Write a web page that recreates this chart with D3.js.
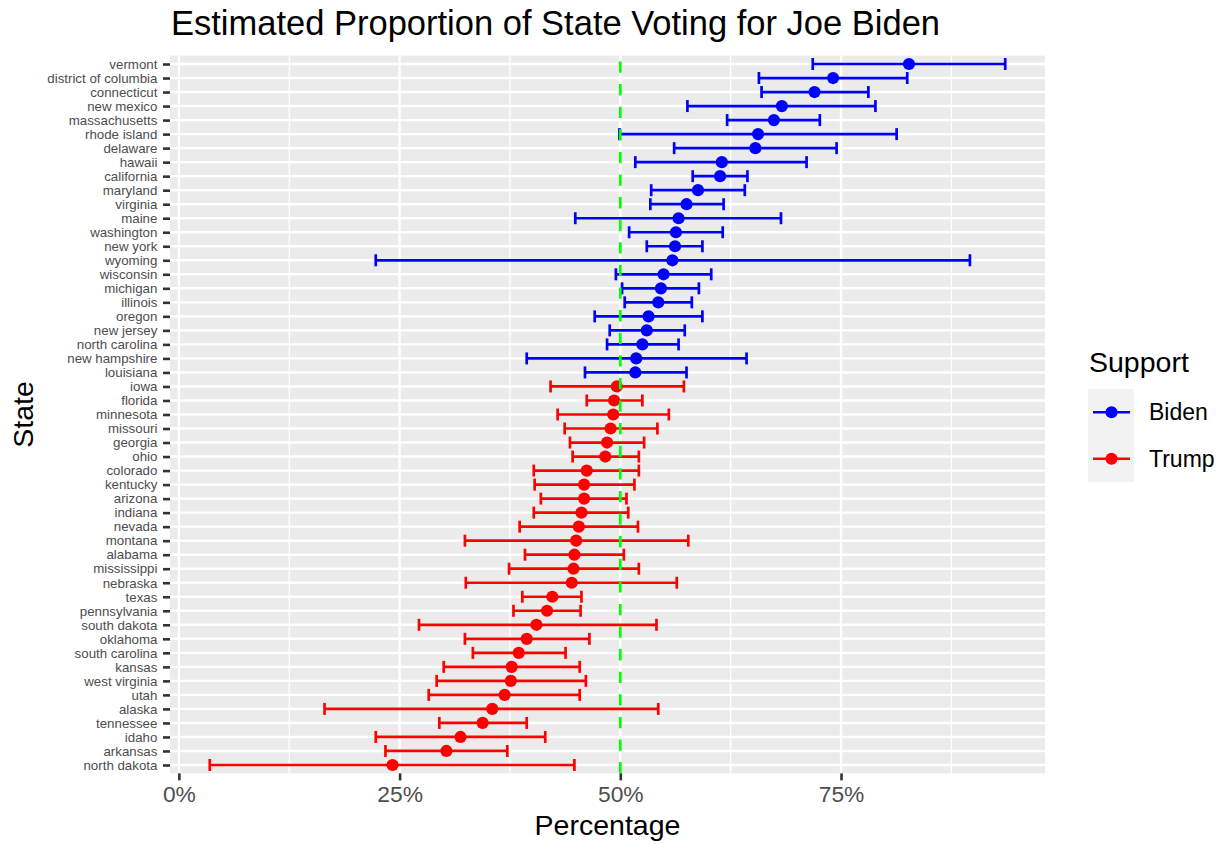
<!DOCTYPE html>
<html>
<head>
<meta charset="utf-8">
<script src="https://cdn.jsdelivr.net/npm/d3@7"></script>
<style>
  body { margin: 0; background: #ffffff; }
  svg { display: block; font-family: "Liberation Sans", Arial, Helvetica, sans-serif; }
</style>
</head>
<body>
<svg id="chart" width="1221" height="844"></svg>
<script>
// States ordered by estimated Biden share (highest first)
const states = ["vermont","district of columbia","connecticut","new mexico","massachusetts","rhode island","delaware","hawaii","california","maryland","virginia","maine","washington","new york","wyoming","wisconsin","michigan","illinois","oregon","new jersey","north carolina","new hampshire","louisiana","iowa","florida","minnesota","missouri","georgia","ohio","colorado","kentucky","arizona","indiana","nevada","montana","alabama","mississippi","nebraska","texas","pennsylvania","south dakota","oklahoma","south carolina","kansas","west virginia","utah","alaska","tennessee","idaho","arkansas","north dakota"];

// Estimated proportion voting for Biden, in percent
const estimate = [82.7,74.1,72.0,68.3,67.4,65.6,65.3,61.5,61.3,58.8,57.5,56.6,56.3,56.2,55.9,54.9,54.6,54.3,53.2,53.0,52.5,51.8,51.7,49.6,49.3,49.2,48.9,48.5,48.3,46.2,45.9,45.9,45.6,45.3,45.0,44.8,44.7,44.5,42.3,41.7,40.5,39.4,38.5,37.7,37.6,36.9,35.5,34.4,31.9,30.3,24.2];

// Interval bounds, in percent
const lower = [71.8,65.7,66.0,57.6,62.1,49.9,56.1,51.7,58.2,53.5,53.4,44.9,51.0,53.0,22.3,49.5,50.2,50.5,47.1,48.8,48.5,39.4,46.0,42.1,46.2,42.9,43.7,44.3,44.6,40.2,40.3,41.0,40.2,38.6,32.4,39.2,37.4,32.5,38.9,37.9,27.2,32.4,33.3,30.0,29.2,28.3,16.5,29.5,22.3,23.4,3.5];
const upper = [93.6,82.5,78.1,78.9,72.6,81.3,74.5,71.1,64.4,64.1,61.7,68.2,61.6,59.3,89.6,60.3,58.9,58.1,59.3,57.3,56.6,64.3,57.5,57.2,52.5,55.5,54.2,52.7,52.1,52.1,51.6,50.7,50.9,52.0,57.7,50.4,52.1,56.4,45.6,45.5,54.1,46.5,43.8,45.4,46.1,45.4,54.3,39.4,41.5,37.2,44.8];

const groups = ["Biden", "Trump"];
const groupColors = ["#0000FF", "#FF0000"];
const xTicks = [0, 0.25, 0.5, 0.75];
const xMinorTicks = [0.125, 0.375, 0.625, 0.875];
const threshold = 0.5;

const rows = states.map((s, i) => ({
  state: s,
  est: estimate[i] / 100,
  lo: lower[i] / 100,
  hi: upper[i] / 100,
  support: estimate[i] / 100 >= threshold ? "Biden" : "Trump"
}));

const svg = d3.select("#chart");
const panel = { left: 170, right: 1045, top: 55.6, bottom: 773.4 };

// Continuous x with 5% expansion, as ggplot does
const lo = d3.min(rows, d => d.lo), hi = d3.max(rows, d => d.hi);
const pad = (hi - lo) * 0.05;
const x = d3.scaleLinear().domain([lo - pad, hi + pad]).range([panel.left, panel.right]);
const y = d3.scalePoint().domain(states).range([panel.top, panel.bottom]).padding(0.6);
const color = d3.scaleOrdinal().domain(groups).range(groupColors);

// Panel background and grid
svg.append("rect")
  .attr("x", panel.left).attr("y", panel.top)
  .attr("width", panel.right - panel.left).attr("height", panel.bottom - panel.top)
  .attr("fill", "#EBEBEB");

const grid = svg.append("g");
grid.selectAll(".minor").data(xMinorTicks.filter(t => x(t) < panel.right)).join("line")
  .attr("x1", d => x(d)).attr("x2", d => x(d))
  .attr("y1", panel.top).attr("y2", panel.bottom)
  .attr("stroke", "#ffffff").attr("stroke-width", 1.3);
grid.selectAll(".majorx").data(xTicks).join("line")
  .attr("x1", d => x(d)).attr("x2", d => x(d))
  .attr("y1", panel.top).attr("y2", panel.bottom)
  .attr("stroke", "#ffffff").attr("stroke-width", 2.4);
grid.selectAll(".majory").data(states).join("line")
  .attr("x1", panel.left).attr("x2", panel.right)
  .attr("y1", d => y(d)).attr("y2", d => y(d))
  .attr("stroke", "#ffffff").attr("stroke-width", 2.4);

// Error bars
const capHalf = 6;
const bars = svg.append("g").selectAll("g").data(rows).join("g")
  .attr("stroke", d => color(d.support)).attr("stroke-width", 2.7).attr("fill", "none");
bars.append("line")
  .attr("x1", d => x(d.lo)).attr("x2", d => x(d.hi))
  .attr("y1", d => y(d.state)).attr("y2", d => y(d.state));
bars.append("line")
  .attr("x1", d => x(d.lo)).attr("x2", d => x(d.lo))
  .attr("y1", d => y(d.state) - capHalf).attr("y2", d => y(d.state) + capHalf);
bars.append("line")
  .attr("x1", d => x(d.hi)).attr("x2", d => x(d.hi))
  .attr("y1", d => y(d.state) - capHalf).attr("y2", d => y(d.state) + capHalf);

// Points
svg.append("g").selectAll("circle").data(rows).join("circle")
  .attr("cx", d => x(d.est)).attr("cy", d => y(d.state)).attr("r", 6.1)
  .attr("fill", d => color(d.support));

// 50% reference line, dashes starting at the bottom
svg.append("line")
  .attr("x1", x(threshold)).attr("x2", x(threshold))
  .attr("y1", panel.bottom).attr("y2", panel.top)
  .attr("stroke", "#00FF00").attr("stroke-width", 2.7)
  .attr("stroke-dasharray", "11.3,11.3");

// Y axis
const yAxis = svg.append("g")
  .attr("transform", `translate(${panel.left},0)`)
  .call(d3.axisLeft(y).tickSize(7).tickPadding(5.6));
yAxis.select(".domain").remove();
yAxis.selectAll(".tick line").attr("stroke", "#333333").attr("stroke-width", 2.6);
yAxis.selectAll(".tick text")
  .attr("fill", "#4D4D4D").attr("font-size", "13.3px")
  .attr("font-family", "Liberation Sans, Arial, sans-serif");

// X axis
const xAxis = svg.append("g")
  .attr("transform", `translate(0,${panel.bottom})`)
  .call(d3.axisBottom(x).tickValues(xTicks).tickFormat(d3.format(".0%")).tickSize(7).tickPadding(5));
xAxis.select(".domain").remove();
xAxis.selectAll(".tick line").attr("stroke", "#333333").attr("stroke-width", 2.6);
xAxis.selectAll(".tick text")
  .attr("fill", "#4D4D4D").attr("font-size", "22.8px")
  .attr("font-family", "Liberation Sans, Arial, sans-serif");

// Titles
svg.append("text")
  .attr("x", panel.left + 1).attr("y", 35)
  .attr("font-size", "34.5px").attr("fill", "#000000")
  .text("Estimated Proportion of State Voting for Joe Biden");

svg.append("text")
  .attr("x", (panel.left + panel.right) / 2).attr("y", 835)
  .attr("text-anchor", "middle").attr("font-size", "28.5px").attr("fill", "#000000")
  .text("Percentage");

svg.append("text")
  .attr("transform", `translate(33,${(panel.top + panel.bottom) / 2}) rotate(-90)`)
  .attr("text-anchor", "middle").attr("font-size", "28.5px").attr("fill", "#000000")
  .text("State");

// Legend
const legend = svg.append("g").attr("transform", "translate(1088,0)");
legend.append("text")
  .attr("x", 1).attr("y", 372)
  .attr("font-size", "28.5px").attr("fill", "#000000")
  .text("Support");
const keySize = 46.5;
const keys = legend.selectAll(".key").data(groups).join("g")
  .attr("transform", (d, i) => `translate(0,${389 + i * keySize})`);
keys.append("rect")
  .attr("width", 46).attr("height", keySize)
  .attr("fill", "#F2F2F2");
keys.append("line")
  .attr("x1", 5).attr("x2", 42)
  .attr("y1", keySize / 2).attr("y2", keySize / 2)
  .attr("stroke", d => color(d)).attr("stroke-width", 2.7);
keys.append("circle")
  .attr("cx", 23.5).attr("cy", keySize / 2).attr("r", 6.1)
  .attr("fill", d => color(d));
keys.append("text")
  .attr("x", 61).attr("y", keySize / 2 + 8)
  .attr("font-size", "23px").attr("fill", "#000000")
  .text(d => d);
</script>
</body>
</html>
